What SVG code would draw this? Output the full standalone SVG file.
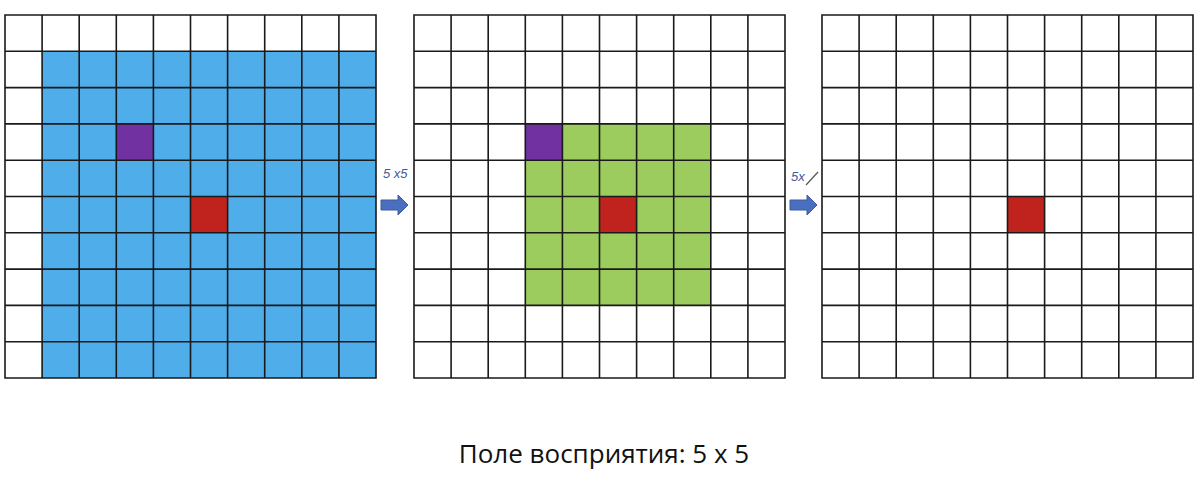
<svg xmlns="http://www.w3.org/2000/svg" xmlns:xlink="http://www.w3.org/1999/xlink" width="1200" height="483" viewBox="0 0 1200 483">
<style>
.grid{fill:none;stroke:#1a1a1a;stroke-width:1.6}
.blue{fill:#4fadea}
.green{fill:#9ccc5e}
.purple{fill:#7131a1}
.red{fill:#c0231d}
.arrow{fill:#4a6fc0;stroke:#3d5a9e;stroke-width:1}
.hand{font-family:"Liberation Sans",sans-serif;font-style:italic;font-size:13px;fill:#3d5a9e}
.caption{font-family:"Open Sans","Liberation Sans",sans-serif;font-size:26px;fill:#111}
</style>
<defs>
<path id="gridlines" class="grid" d="M0,0H371V363H0Z M37.1,0V363 M74.2,0V363 M111.3,0V363 M148.4,0V363 M185.5,0V363 M222.6,0V363 M259.7,0V363 M296.8,0V363 M333.9,0V363 M0,36.3H371 M0,72.6H371 M0,108.9H371 M0,145.2H371 M0,181.5H371 M0,217.8H371 M0,254.1H371 M0,290.4H371 M0,326.7H371"/>
<path id="arr" class="arrow" d="M0,10H17V5L27,15L17,25V20H0Z"/>
</defs>
<rect width="1200" height="483" fill="#fff"/>
<g id="grid-input" transform="translate(5,15)">
<rect class="blue" x="37.1" y="36.3" width="333.9" height="326.7"/>
<rect class="purple" x="111.3" y="108.9" width="37.1" height="36.3"/>
<rect class="red" x="185.5" y="181.5" width="37.1" height="36.3"/>
<use xlink:href="#gridlines"/>
</g>
<g id="grid-middle" transform="translate(414,15)">
<rect class="green" x="111.3" y="108.9" width="185.5" height="181.5"/>
<rect class="purple" x="111.3" y="108.9" width="37.1" height="36.3"/>
<rect class="red" x="185.5" y="181.5" width="37.1" height="36.3"/>
<use xlink:href="#gridlines"/>
</g>
<g id="grid-output" transform="translate(822,15)">
<rect class="red" x="185.5" y="181.5" width="37.1" height="36.3"/>
<use xlink:href="#gridlines"/>
</g>
<g id="connectors">
<use xlink:href="#arr" transform="translate(381,190)"/>
<text class="hand" x="383" y="178">5 x5</text>
<use xlink:href="#arr" transform="translate(790,190)"/>
<text class="hand" x="791" y="181">5x</text>
<path d="M806,185L818,172" stroke="#555" stroke-width="1.2" fill="none"/>
</g>
<text class="caption" x="604" y="463" text-anchor="middle">Поле восприятия: 5 x 5</text>
</svg>
